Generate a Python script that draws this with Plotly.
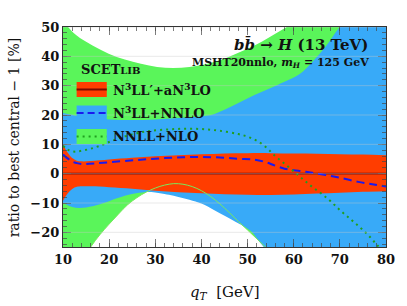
import plotly.graph_objects as go

# ---------------- data ----------------
# NNLL+NLO band
qt_green_lo = [10, 12, 14, 16, 18, 20, 22, 24, 26, 28, 30, 32, 34, 36, 38, 40, 42, 44, 46, 48, 50, 52, 54, 56, 60, 70, 80]
green_lo = [-42, -36, -30.5, -25, -20.8, -17.2, -13.8, -10.6, -8.2, -6.3, -4.9, -3.9, -3.4, -3.6, -4.4, -5.8, -7.8,
            -10.3, -13.2, -16.3, -19.2, -22.2, -25.2, -28.5, -35, -55, -75]
qt_green_up = [10, 11.1, 12.9, 16.4, 19.9, 23.4, 26.9, 30.4, 33.9, 37.4, 40.9, 44.5, 48, 51.5, 55, 58.5, 62, 66, 70, 75, 80]
green_up = [52.5, 50, 47.2, 43.7, 40.9, 38.9, 37.5, 36.4, 36.0, 36.4, 37.3, 38.9, 41.2, 43.7, 46.8, 50, 53, 57, 61, 66, 71]

# N3LL+NNLO band
qt_blue_lo = [10, 11, 12, 13.6, 16.4, 18, 20, 21.5, 23.4, 25.5, 27.6, 30, 32, 34, 37.4, 40, 43, 46.6, 49.4, 51, 52.2,
              53.5, 56, 60, 70, 80]
blue_lo = [-9.9, -10.8, -11.4, -11.7, -11.1, -10.4, -9.4, -8.5, -7.5, -6.8, -6.3, -6.4, -6.9, -7.5, -8.9, -10.2, -12.6,
           -15.7, -18.2, -20, -22.5, -25, -30, -37, -55, -75]
qt_blue_up = [10, 15, 20, 25, 30, 35, 40, 42.5, 45, 48, 51.5, 55, 58, 61.3, 64, 67, 70, 75, 80]
blue_up = [20.7, 19.2, 18.5, 18.3, 18.5, 19.0, 19.6, 20.2, 21.8, 24.1, 26.8, 29.2, 31.3, 34, 38, 43.5, 50, 58, 66]

# N3LL'+aN3LO band
qt_red = [10, 11, 12, 13, 14, 16, 20, 25, 30, 35, 40, 45, 50, 55, 60, 65, 70, 75, 80]
red_up = [9.9, 7.2, 5.3, 4.4, 4.2, 4.3, 4.8, 5.4, 5.9, 6.3, 6.6, 6.9, 7.0, 7.0, 6.9, 6.8, 6.6, 6.5, 6.3]
red_lo = [-9.2, -6.8, -5.2, -4.5, -4.3, -4.3, -4.6, -5.1, -5.8, -6.3, -6.7, -7.0, -7.2, -7.3, -7.1, -6.8, -6.5, -6.2, -6.0]
qt_red_c = [10, 80]
red_c = [0, 0]

# central curves
qt_blue_c = [10, 11, 12, 13, 14, 15, 17, 20, 24, 28, 32, 36, 40, 44, 48, 51.5, 54, 56, 58, 60, 62, 64, 67, 70, 74, 77, 80]
blue_c = [6.5, 5.2, 4.1, 3.6, 3.3, 3.3, 3.5, 3.9, 4.4, 4.9, 5.3, 5.6, 5.7, 5.5, 5.1, 4.8, 3.9, 2.7, 1.7, 1.2, 0.8, 0.3,
          -0.5, -1.4, -2.8, -3.6, -4.4]
qt_green_c = [10, 11, 12, 13, 14, 16, 18, 20, 22, 25, 28, 32, 36, 40, 44, 48, 50, 52, 54, 56, 58, 60, 62, 64, 66, 68,
              70, 72, 74, 76, 78, 80]
green_c = [9.5, 8.2, 7.6, 7.5, 7.8, 8.5, 9.5, 10.8, 12, 13.4, 14.4, 15.0, 15.3, 15.2, 14.6, 13.5, 12.6, 11.2, 9.0, 6.0,
           3.4, 0.8, -1.9, -4.5, -6.8, -9.4, -12.4, -15.1, -17.8, -20.7, -24.2, -27.5]

x_ticks = [10, 20, 30, 40, 50, 60, 70, 80]
y_ticks = [-20, -10, 0, 10, 20, 30, 40, 50]

# ---------------- style ----------------
RED = "#ff3d00"
BLUE = "#38aaf8"
GREEN = "#5af55a"
DARKRED = "#7a0a00"
DASHBLUE = "#1a1aee"
DOTGREEN = "#1f9f1f"
EDGEGREEN = "#78ea5c"
SERIF = "DejaVu Serif"

fig = go.Figure()


def band(xl, yl, xu, yu, color):
    fig.add_trace(go.Scatter(x=xl, y=yl, mode="lines", line=dict(width=0, shape="spline", color=color),
                             showlegend=False, hoverinfo="skip"))
    fig.add_trace(go.Scatter(x=xu, y=yu, mode="lines", fill="tonexty", fillcolor=color,
                             line=dict(width=0, shape="spline", color=color), showlegend=False, hoverinfo="skip"))


band(qt_green_lo, green_lo, qt_green_up, green_up, GREEN)
band(qt_blue_lo, blue_lo, qt_blue_up, blue_up, BLUE)
band(qt_red, red_lo, qt_red, red_up, RED)

# thin visible lower edge of NNLL band
fig.add_trace(go.Scatter(x=qt_green_lo, y=green_lo, mode="lines",
                         line=dict(width=1, shape="spline", color=EDGEGREEN), showlegend=False))
fig.add_trace(go.Scatter(x=qt_red_c, y=red_c, mode="lines", line=dict(width=1.6, color=DARKRED), showlegend=False))
fig.add_trace(go.Scatter(x=qt_blue_c, y=blue_c, mode="lines",
                         line=dict(width=2, shape="spline", color=DASHBLUE, dash="8px,5px"), showlegend=False))
fig.add_trace(go.Scatter(x=qt_green_c, y=green_c, mode="lines",
                         line=dict(width=2, shape="spline", color=DOTGREEN, dash="2px,4px"), showlegend=False))

# plot area geometry (pixels) for placing legend / labels
L, R, T, B = 63, 395, 27, 247


def px(x):
    return (x - L) / (R - L)


def py(y):
    return (B - y) / (B - T)


shapes = []
# faint grid lines drawn over the bands
for yv in y_ticks:
    shapes.append(dict(type="line", xref="paper", yref="y", x0=0, x1=1, y0=yv, y1=yv,
                       line=dict(color="rgba(200,200,200,0.4)", width=1), layer="above"))

# custom legend
rows = [
    (89.5, RED, DARKRED, "solid", "N<sup>3</sup>LL′+aN<sup>3</sup>LO"),
    (113, BLUE, DASHBLUE, "7px,4px", "N<sup>3</sup>LL+NNLO"),
    (136.5, GREEN, DOTGREEN, "2px,4px", "NNLL+NLO"),
]
annotations = []
for cy, fc, lc, dash, label in rows:
    shapes.append(dict(type="rect", xref="paper", yref="paper", x0=px(77), x1=px(108),
                       y0=py(cy + 7.5), y1=py(cy - 7.5), fillcolor=fc, line=dict(width=0), layer="above"))
    shapes.append(dict(type="line", xref="paper", yref="paper", x0=px(77), x1=px(108),
                       y0=py(cy), y1=py(cy), line=dict(color=lc, width=2, dash=dash), layer="above"))
    annotations.append(dict(xref="paper", yref="paper", x=px(112), y=py(cy), xanchor="left", yanchor="middle",
                            text="<b>" + label + "</b>", showarrow=False,
                            font=dict(family=SERIF, size=13, color="#111")))

annotations.append(dict(xref="paper", yref="paper", x=px(79), y=py(69), xanchor="left", yanchor="middle",
                        text="<b>SCET<span style='font-size:10px'>LIB</span></b>", showarrow=False,
                        font=dict(family=SERIF, size=13, color="#111")))
annotations.append(dict(xref="paper", yref="paper", x=px(379), y=py(45), xanchor="right", yanchor="middle",
                        text="<b><i>b</i><i>b\u0304</i> → <i>H</i> (13 TeV)</b>", showarrow=False,
                        font=dict(family=SERIF, size=15, color="#111")))
annotations.append(dict(xref="paper", yref="paper", x=px(380), y=py(63), xanchor="right", yanchor="middle",
                        text="<b>MSHT20nnlo, <i>m<sub>H</sub></i> = 125 GeV</b>", showarrow=False,
                        font=dict(family=SERIF, size=11, color="#111")))
# axis titles
annotations.append(dict(xref="paper", yref="paper", x=px(229), y=py(292), xanchor="center", yanchor="middle",
                        text="<i>q<sub>T</sub></i>  [GeV]", showarrow=False,
                        font=dict(family=SERIF, size=15, color="#111")))
annotations.append(dict(xref="paper", yref="paper", x=px(13), y=py(137), xanchor="center", yanchor="middle",
                        text="ratio to best central − 1 [%]", textangle=-90, showarrow=False,
                        font=dict(family=SERIF, size=14, color="#111")))

axis_common = dict(showline=True, linecolor="#333", linewidth=1.2, mirror="allticks", ticks="inside",
                   tickcolor="rgba(70,70,70,0.7)", tickwidth=1, showgrid=False, zeroline=False,
                   tickfont=dict(family=SERIF, size=13, color="#111"))

fig.update_xaxes(range=[10, 80], tickvals=x_ticks, ticktext=[f"<b>{v}</b>" for v in x_ticks], ticklen=8,
                 minor=dict(dtick=2, ticks="inside", ticklen=4, tickcolor="rgba(70,70,70,0.7)"),
                 **axis_common)
fig.update_yaxes(range=[-25, 50], tickvals=y_ticks,
                 ticktext=[f"<b>{v}</b>".replace("-", "−") for v in y_ticks], ticklen=8,
                 minor=dict(dtick=2, ticks="inside", ticklen=4, tickcolor="rgba(70,70,70,0.7)"),
                 **axis_common)

fig.update_layout(width=407, height=306, margin=dict(l=L, r=407 - R, t=T, b=306 - B),
                  plot_bgcolor="white", paper_bgcolor="white", shapes=shapes, annotations=annotations,
                  showlegend=False)

fig.write_html("out.html", config={"displayModeBar": False},
               post_script="document.body.style.margin='0';")
